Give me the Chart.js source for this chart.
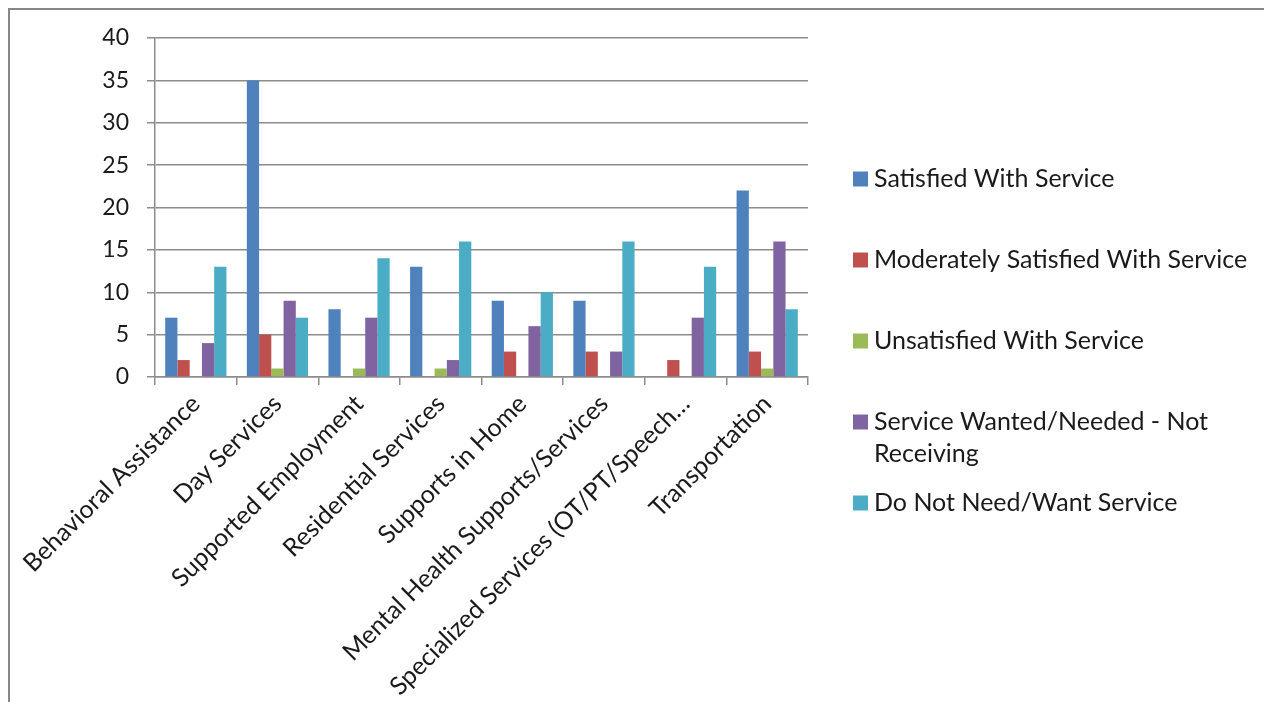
<!DOCTYPE html>
<html>
<head>
<meta charset="utf-8">
<title>Service Satisfaction by Service Type</title>
<script src="https://cdn.jsdelivr.net/npm/chart.js@4/dist/chart.umd.min.js"></script>
<style>
  html, body { margin: 0; padding: 0; background: #ffffff; }
  body { width: 1264px; height: 702px; position: relative; overflow: hidden; }
  #frame {
    position: absolute; left: 8px; top: 8px; right: 0; bottom: 0;
    border-top: 2px solid #878787; border-left: 2px solid #878787;
  }
  #wrap { position: absolute; left: 0; top: 0; width: 1264px; height: 702px; }
</style>
</head>
<body>
<div id="frame"></div>
<div id="wrap"><canvas id="chart" width="1264" height="702"></canvas></div>
<script>
// Service categories along the x axis
const categories = [
  'Behavioral Assistance',
  'Day Services',
  'Supported Employment',
  'Residential Services',
  'Supports in Home',
  'Mental Health Supports/Services',
  'Specialized Services (OT/PT/Speech\u2026',
  'Transportation'
];

// Number of responses per category for each satisfaction level
const satisfied         = [7, 35, 8, 13, 9, 9, 0, 22];
const moderately        = [2, 5, 0, 0, 3, 3, 2, 3];
const unsatisfied       = [0, 1, 1, 1, 0, 0, 0, 1];
const wantedNotReceived = [4, 9, 7, 2, 6, 3, 7, 16];
const doNotNeed         = [13, 7, 14, 16, 10, 16, 13, 8];

const seriesLabels = [
  'Satisfied With Service',
  'Moderately Satisfied With Service',
  'Unsatisfied With Service',
  'Service Wanted/Needed - Not Receiving',
  'Do Not Need/Want Service'
];
const seriesColors = ['#4F81BD', '#C0504D', '#9BBB59', '#8064A2', '#4BACC6'];

const yTicks = [0, 5, 10, 15, 20, 25, 30, 35, 40];

const FONT = "Lato, 'Open Sans', sans-serif";
const TEXT_SIZE = 25;
const AXIS_GREY = '#8c8c8c';

// Legend drawn at the right, with word wrapping for long entries
const sideLegend = {
  id: 'sideLegend',
  afterDraw(chart) {
    const ctx = chart.ctx;
    const boxX = 853, textX = 874, maxW = 380, box = 15;
    const firstY = 179, step = 81, lineH = 32;
    ctx.save();
    ctx.font = TEXT_SIZE + 'px ' + FONT;
    ctx.textBaseline = 'middle';
    ctx.textAlign = 'left';
    chart.data.datasets.forEach((ds, i) => {
      const y = firstY + i * step;
      ctx.fillStyle = ds.backgroundColor;
      ctx.fillRect(boxX, y - box / 2, box, box);
      const words = ds.label.split(' ');
      const lines = [];
      let line = '';
      words.forEach(w => {
        const test = line ? line + ' ' + w : w;
        if (ctx.measureText(test).width > maxW && line) {
          lines.push(line);
          line = w;
        } else {
          line = test;
        }
      });
      lines.push(line);
      ctx.fillStyle = '#1a1a1a';
      lines.forEach((l, k) => ctx.fillText(l, textX, y + k * lineH));
    });
    ctx.restore();
  }
};

const seriesValues = [satisfied, moderately, unsatisfied, wantedNotReceived, doNotNeed];

new Chart(document.getElementById('chart'), {
  type: 'bar',
  data: {
    labels: categories,
    datasets: seriesValues.map((vals, i) => ({
      label: seriesLabels[i],
      data: vals,
      backgroundColor: seriesColors[i],
      borderWidth: 0,
      categoryPercentage: 0.75,
      barPercentage: 1.0
    }))
  },
  options: {
    responsive: false,
    animation: false,
    devicePixelRatio: 1,
    layout: { padding: { left: 0, top: 38, right: 456, bottom: 0 } },
    plugins: {
      legend: { display: false },
      tooltip: { enabled: false }
    },
    scales: {
      x: {
        afterFit(scale) { scale.height = 325; },
        grid: {
          display: true,
          drawOnChartArea: false,
          drawTicks: true,
          tickLength: 8,
          offset: true,
          color: AXIS_GREY,
          lineWidth: 1.5
        },
        border: { display: true, color: AXIS_GREY, width: 1.5 },
        ticks: {
          autoSkip: false,
          maxRotation: 45,
          minRotation: 45,
          padding: 4,
          color: '#1a1a1a',
          font: { family: FONT, size: TEXT_SIZE }
        }
      },
      y: {
        min: 0,
        max: 40,
        afterFit(scale) { scale.width = 155; },
        afterBuildTicks(scale) { scale.ticks = yTicks.map(v => ({ value: v })); },
        grid: {
          color: AXIS_GREY,
          lineWidth: 1.5,
          tickLength: 8,
          drawTicks: true
        },
        border: { display: true, color: AXIS_GREY, width: 1.5 },
        ticks: {
          padding: 18,
          color: '#1a1a1a',
          font: { family: FONT, size: 23 }
        }
      }
    }
  },
  plugins: [sideLegend]
});
</script>
</body>
</html>
